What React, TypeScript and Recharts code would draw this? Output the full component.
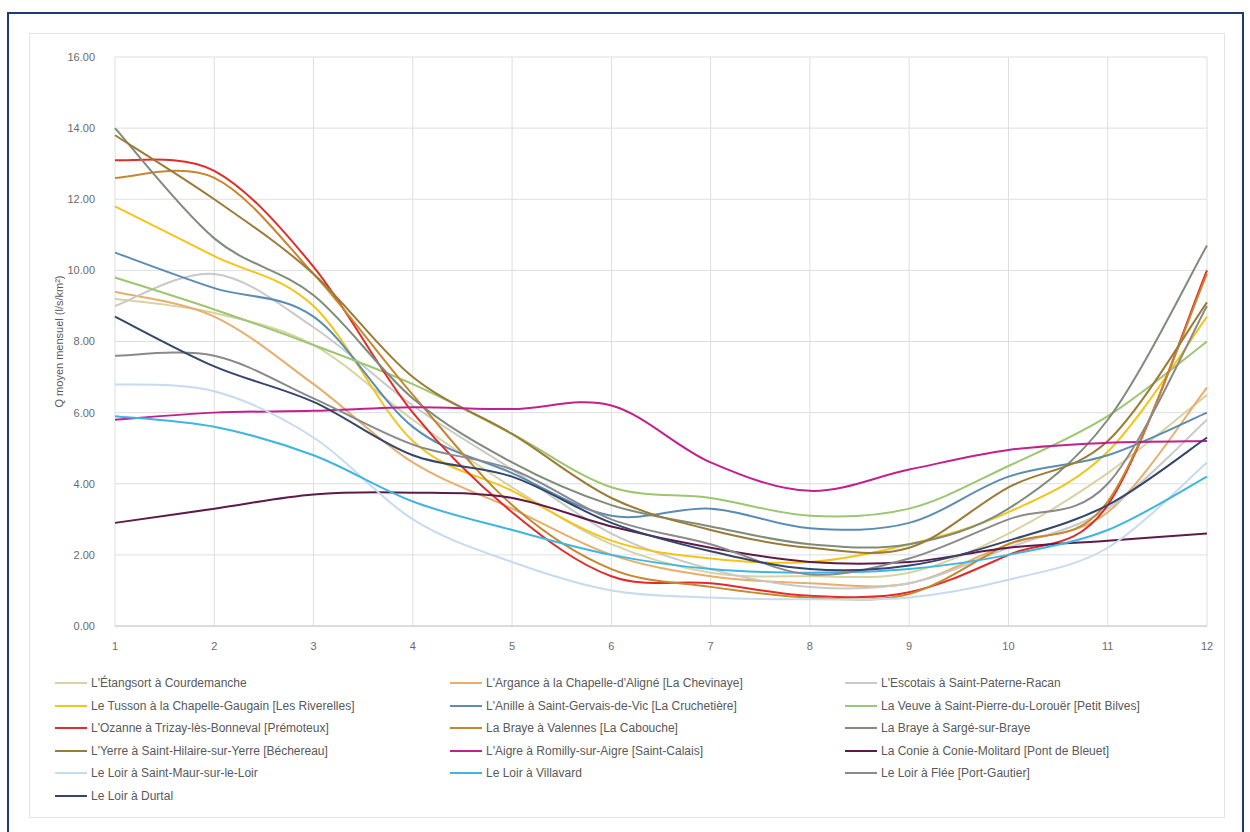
import { LineChart, Line, XAxis, YAxis, CartesianGrid } from 'recharts';

const months = ['1', '2', '3', '4', '5', '6', '7', '8', '9', '10', '11', '12'];
const yTicks = [0, 2, 4, 6, 8, 10, 12, 14, 16];

const etangsort = [9.2, 8.8, 7.9, 5.8, 3.9, 2.3, 1.5, 1.4, 1.5, 2.6, 4.3, 6.5];
const argance = [9.4, 8.7, 6.8, 4.6, 3.3, 2.0, 1.4, 1.2, 1.2, 2.3, 3.2, 6.7];
const escotais = [9.0, 9.9, 8.4, 6.2, 4.4, 2.6, 1.6, 1.1, 1.2, 2.2, 3.3, 5.8];
const tusson = [11.8, 10.4, 9.0, 5.2, 3.8, 2.4, 1.9, 1.8, 2.3, 3.2, 4.9, 8.7];
const anille = [10.5, 9.5, 8.7, 5.6, 4.3, 3.1, 3.3, 2.75, 2.9, 4.2, 4.8, 6.0];
const veuve = [9.8, 8.9, 7.9, 6.8, 5.4, 3.9, 3.6, 3.1, 3.3, 4.5, 5.9, 8.0];
const ozanne = [13.1, 12.8, 10.1, 6.0, 3.2, 1.4, 1.2, 0.85, 0.95, 2.0, 3.4, 10.0];
const brayeValennes = [12.6, 12.6, 9.9, 6.5, 3.4, 1.6, 1.1, 0.8, 0.9, 2.3, 3.5, 9.9];
const brayeSarge = [14.0, 10.9, 9.3, 6.4, 4.6, 3.4, 2.8, 2.3, 2.3, 3.3, 5.8, 10.7];
const yerre = [13.8, 12.0, 9.9, 7.0, 5.4, 3.6, 2.7, 2.2, 2.2, 3.9, 5.2, 9.1];
const aigre = [5.8, 6.0, 6.05, 6.15, 6.1, 6.2, 4.6, 3.8, 4.4, 4.95, 5.15, 5.2];
const conie = [2.9, 3.3, 3.7, 3.75, 3.6, 2.8, 2.2, 1.8, 1.8, 2.2, 2.4, 2.6];
const loirSaintMaur = [6.8, 6.6, 5.3, 3.0, 1.8, 1.0, 0.8, 0.75, 0.8, 1.3, 2.2, 4.6];
const loirVillavard = [5.9, 5.6, 4.8, 3.5, 2.7, 2.0, 1.6, 1.5, 1.6, 2.0, 2.7, 4.2];
const loirFlee = [7.6, 7.6, 6.4, 5.1, 4.4, 3.0, 2.3, 1.45, 1.9, 3.0, 4.0, 9.0];
const loirDurtal = [8.7, 7.3, 6.3, 4.8, 4.2, 2.9, 2.1, 1.6, 1.7, 2.4, 3.4, 5.3];

const series = [
  { key: 'etangsort', name: "L'Étangsort à Courdemanche", values: etangsort, color: '#d8d3a2' },
  { key: 'argance', name: "L'Argance à la Chapelle-d'Aligné [La Chevinaye]", values: argance, color: '#e7ae6c' },
  { key: 'escotais', name: "L'Escotais à Saint-Paterne-Racan", values: escotais, color: '#c9c9c9' },
  { key: 'tusson', name: 'Le Tusson à la Chapelle-Gaugain [Les Riverelles]', values: tusson, color: '#f3c51a' },
  { key: 'anille', name: "L'Anille à Saint-Gervais-de-Vic [La Cruchetière]", values: anille, color: '#5b8cb3' },
  { key: 'veuve', name: 'La Veuve à Saint-Pierre-du-Lorouër [Petit Bilves]', values: veuve, color: '#9dc670' },
  { key: 'ozanne', name: "L'Ozanne à Trizay-lès-Bonneval [Prémoteux]", values: ozanne, color: '#e22b2b' },
  { key: 'brayeValennes', name: 'La Braye à Valennes [La Cabouche]', values: brayeValennes, color: '#c8872f' },
  { key: 'brayeSarge', name: 'La Braye à Sargé-sur-Braye', values: brayeSarge, color: '#7f8c7b' },
  { key: 'yerre', name: "L'Yerre à Saint-Hilaire-sur-Yerre [Béchereau]", values: yerre, color: '#9a7c36' },
  { key: 'aigre', name: "L'Aigre à Romilly-sur-Aigre [Saint-Calais]", values: aigre, color: '#c0218f' },
  { key: 'conie', name: 'La Conie à Conie-Molitard [Pont de Bleuet]', values: conie, color: '#5d1b4b' },
  { key: 'loirSaintMaur', name: 'Le Loir à Saint-Maur-sur-le-Loir', values: loirSaintMaur, color: '#c6dbef' },
  { key: 'loirVillavard', name: 'Le Loir à Villavard', values: loirVillavard, color: '#3eb6e1' },
  { key: 'loirFlee', name: 'Le Loir à Flée [Port-Gautier]', values: loirFlee, color: '#8a8a8a' },
  { key: 'loirDurtal', name: 'Le Loir à Durtal', values: loirDurtal, color: '#35466b' },
];

const data = months.map((m, i) => {
  const row: Record<string, string | number> = { month: m };
  series.forEach((s) => {
    row[s.key] = s.values[i];
  });
  return row;
});

// spreadsheet-style smoothing (Catmull-Rom through every point)
function smoothCurve(context: any) {
  let pts: [number, number][] = [];
  return {
    areaStart() {},
    areaEnd() {},
    lineStart() {
      pts = [];
    },
    point(x: number, y: number) {
      pts.push([+x, +y]);
    },
    lineEnd() {
      if (!pts.length) return;
      context.moveTo(pts[0][0], pts[0][1]);
      for (let i = 0; i < pts.length - 1; i++) {
        const p0 = pts[i - 1] || pts[i];
        const p1 = pts[i];
        const p2 = pts[i + 1];
        const p3 = pts[i + 2] || p2;
        context.bezierCurveTo(
          p1[0] + (p2[0] - p0[0]) / 6,
          p1[1] + (p2[1] - p0[1]) / 6,
          p2[0] - (p3[0] - p1[0]) / 6,
          p2[1] - (p3[1] - p1[1]) / 6,
          p2[0],
          p2[1]
        );
      }
    },
  };
}

const font = '"Liberation Sans", Arial, sans-serif';
const legendCols = [55, 450, 845];

export default function App() {
  return (
    <div style={{ position: 'absolute', left: 0, top: 0, width: 1250, height: 832, background: '#fff', overflow: 'hidden', fontFamily: font }}>
      <div style={{ position: 'absolute', left: 7, top: 12, width: 1237, height: 830, border: '2px solid #1f3a7a', boxSizing: 'border-box' }} />
      <div style={{ position: 'absolute', left: 29, top: 33, width: 1196, height: 785, border: '1px solid #e3e3e3', boxSizing: 'border-box' }} />
      <div style={{ position: 'absolute', left: 0, top: 0 }}>
        <LineChart width={1250} height={832} data={data} margin={{ top: 57, right: 43, left: 0, bottom: 176 }}>
          <CartesianGrid stroke="#dedede" strokeWidth={1} />
          <XAxis
            dataKey="month"
            height={30}
            tickLine={false}
            axisLine={{ stroke: '#c8c8c8' }}
            tickMargin={10}
            tick={{ fontSize: 11, fill: '#6b6b6b', fontFamily: font }}
          />
          <YAxis
            width={115}
            domain={[0, 16]}
            ticks={yTicks}
            tickLine={false}
            axisLine={false}
            tickMargin={14}
            tickFormatter={(v: number) => v.toFixed(2)}
            tick={{ fontSize: 11, fill: '#6b6b6b', fontFamily: font }}
            label={{
              value: 'Q moyen mensuel  (l/s/km²)',
              angle: -90,
              position: 'center',
              dx: 2,
              style: { fontSize: 11, fill: '#595959', fontFamily: font },
            }}
          />
          {series.map((s) => (
            <Line
              key={s.key}
              type={smoothCurve as any}
              dataKey={s.key}
              name={s.name}
              stroke={s.color}
              strokeWidth={2}
              dot={false}
              isAnimationActive={false}
            />
          ))}
        </LineChart>
      </div>
      {series.map((s, i) => {
        const col = i % 3;
        const row = Math.floor(i / 3);
        return (
          <div
            key={s.key}
            style={{
              position: 'absolute',
              left: legendCols[col],
              top: 676 + row * 22.5,
              display: 'flex',
              alignItems: 'center',
              fontSize: 12,
              color: '#595959',
              whiteSpace: 'nowrap',
            }}
          >
            <span style={{ display: 'inline-block', width: 32, height: 2, background: s.color, marginRight: 4 }} />
            <span>{s.name}</span>
          </div>
        );
      })}
    </div>
  );
}
